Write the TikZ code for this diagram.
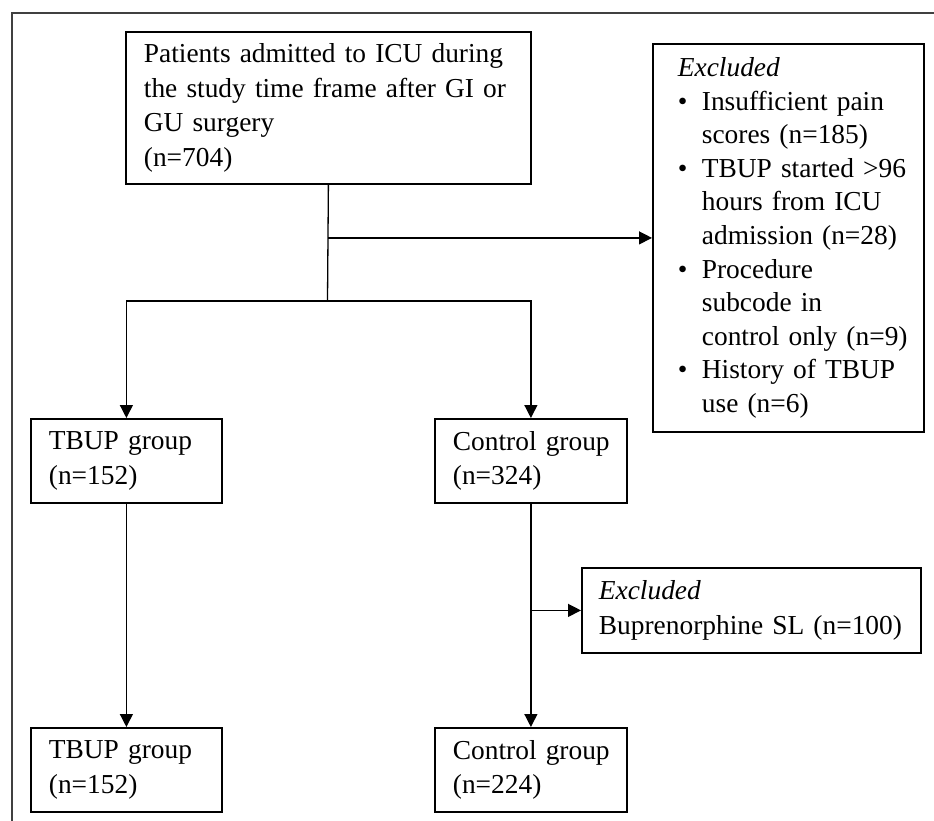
\documentclass[tikz,border=0pt]{standalone}
\usepackage{fontspec}
\setmainfont{Liberation Serif}
\usepackage{tikz}
\usetikzlibrary{arrows.meta}
\newcommand{\itembul}{\makebox[12pt][l]{\textbullet}}
\newcommand{\itemind}{\hspace*{12pt}}

\begin{document}
\begin{tikzpicture}[x=0.5pt,y=-0.5pt,
    fbox/.style={draw, line width=0.9pt, anchor=north west, align=left, inner xsep=0pt, inner ysep=0pt,
        font=\fontsize{13.7}{17.2}\selectfont, execute at begin node={\leftskip=#1}},
    fbox/.default=9pt,
    conn/.style={line width=0.65pt, -{Triangle[length=6.5pt,width=6.5pt]}}]
        \useasboundingbox (0,0) rectangle (934,821);
        \draw[line width=0.7pt, black!75] (12,821)--(12,13)--(934,13);
        \node[fbox, text width=202.5pt, minimum height=76pt] (top) at (125,31)
            {Patients admitted to ICU during\\the study time frame after GI or\\GU surgery\\(n=704)};
        \node[fbox=12.5pt, text width=135.5pt, minimum height=194pt,
            font=\fontsize{13.7}{16.8}\selectfont] (exa) at (652,43)
            {\textit{Excluded}\\
             \itembul Insufficient pain\\ \itemind scores (n=185)\\
             \itembul TBUP started >96\\ \itemind hours from ICU\\ \itemind admission (n=28)\\
             \itembul Procedure\\ \itemind subcode in\\ \itemind control only (n=9)\\
             \itembul History of TBUP\\ \itemind use (n=6)};
        \node[fbox, text width=95.5pt, minimum height=42pt] (tbupa) at (30,418) {TBUP group\\(n=152)};
        \node[fbox, text width=96pt, minimum height=42pt] (ctrla) at (434,418) {Control group\\(n=324)};
        \node[fbox=8.5pt, text width=169.5pt, minimum height=42.5pt] (exb) at (581,567)
            {\textit{Excluded}\\Buprenorphine SL (n=100)};
        \node[fbox, text width=95.5pt, minimum height=42pt] (tbupb) at (30,727) {TBUP group\\(n=152)};
        \node[fbox, text width=96pt, minimum height=42pt] (ctrlb) at (434,727) {Control group\\(n=224)};
        \coordinate (split) at (327.5,301);
        \draw[line width=0.65pt] (top.south)--(split);
        \draw[conn] (top.south |- exa.west)--(exa.west);
        \draw[conn] (split)-|(tbupa.north);
        \draw[conn] (split)-|(ctrla.north);
        \draw[conn] (tbupa.south)--(tbupb.north);
        \draw[conn] (ctrla.south)--(ctrlb.north);
        \draw[conn] (ctrla.south |- exb.west)--(exb.west);
\end{tikzpicture}
\end{document}
